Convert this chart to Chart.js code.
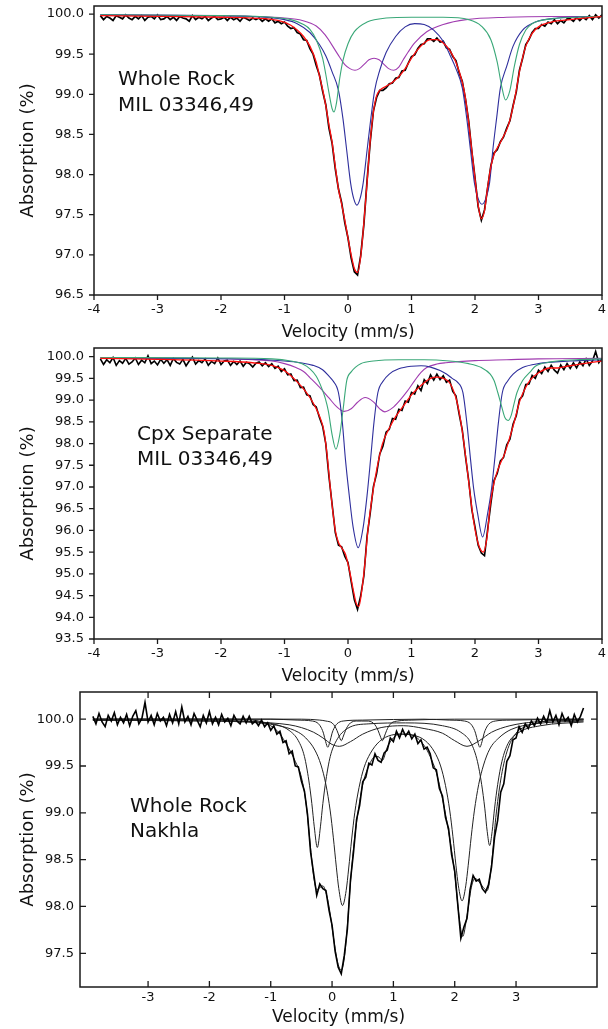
<!DOCTYPE html>
<html><head><meta charset="utf-8">
<script src="https://cdn.jsdelivr.net/npm/chart.js@4.4.1/dist/chart.umd.min.js"></script>
<style>
html,body{margin:0;padding:0;background:#fff;width:608px;height:1029px;overflow:hidden;}
canvas{position:absolute;left:0;}
</style></head><body>
<canvas id="c1" width="608" height="345" style="top:0px"></canvas>
<canvas id="c2" width="608" height="345" style="top:345px"></canvas>
<canvas id="c3" width="608" height="349" style="top:680px"></canvas>
<script>
// ---------- tick values ----------
const xTicksMil = [-4,-3,-2,-1,0,1,2,3,4];
const yTicksWr49 = [96.5,97.0,97.5,98.0,98.5,99.0,99.5,100.0];
const yTicksCpx = [93.5,94.0,94.5,95.0,95.5,96.0,96.5,97.0,97.5,98.0,98.5,99.0,99.5,100.0];
const xTicksNak = [-3,-2,-1,0,1,2,3];
const yTicksNak = [97.5,98.0,98.5,99.0,99.5,100.0];

// ---------- measured spectra (velocity channels, mm/s) ----------
const velocity = [
-3.90,-3.85,-3.80,-3.75,-3.70,-3.65,-3.60,-3.55,-3.50,-3.45,
-3.40,-3.35,-3.30,-3.25,-3.20,-3.15,-3.10,-3.05,-3.00,-2.95,
-2.90,-2.85,-2.80,-2.75,-2.70,-2.65,-2.60,-2.55,-2.50,-2.45,
-2.40,-2.35,-2.30,-2.25,-2.20,-2.15,-2.10,-2.05,-2.00,-1.95,
-1.90,-1.85,-1.80,-1.75,-1.70,-1.65,-1.60,-1.55,-1.50,-1.45,
-1.40,-1.35,-1.30,-1.25,-1.20,-1.15,-1.10,-1.05,-1.00,-0.95,
-0.90,-0.85,-0.80,-0.75,-0.70,-0.65,-0.60,-0.55,-0.50,-0.45,
-0.40,-0.35,-0.30,-0.25,-0.20,-0.15,-0.10,-0.05,0.00,0.05,
0.10,0.15,0.20,0.25,0.30,0.35,0.40,0.45,0.50,0.55,
0.60,0.65,0.70,0.75,0.80,0.85,0.90,0.95,1.00,1.05,
1.10,1.15,1.20,1.25,1.30,1.35,1.40,1.45,1.50,1.55,
1.60,1.65,1.70,1.75,1.80,1.85,1.90,1.95,2.00,2.05,
2.10,2.15,2.20,2.25,2.30,2.35,2.40,2.45,2.50,2.55,
2.60,2.65,2.70,2.75,2.80,2.85,2.90,2.95,3.00,3.05,
3.10,3.15,3.20,3.25,3.30,3.35,3.40,3.45,3.50,3.55,
3.60,3.65,3.70,3.75,3.80,3.85,3.90,3.95,4.00,4.05,
4.10];

// Whole rock MIL 03346,49
const wr49Absorption = [
99.98,99.93,99.97,99.95,99.92,99.98,99.96,99.94,99.99,99.95,
99.93,99.97,99.94,99.98,99.92,99.96,99.97,99.94,99.99,99.93,
99.94,99.97,99.93,99.96,99.92,99.97,99.95,99.94,99.91,99.98,
99.93,99.96,99.94,99.97,99.92,99.95,99.97,99.93,99.94,99.96,
99.92,99.96,99.93,99.95,99.91,99.96,99.94,99.92,99.95,99.93,
99.95,99.91,99.94,99.91,99.94,99.89,99.91,99.88,99.90,99.85,
99.82,99.83,99.77,99.75,99.68,99.67,99.57,99.50,99.36,99.24,
99.04,98.87,98.58,98.39,98.07,97.82,97.65,97.40,97.21,96.96,
96.79,96.75,96.99,97.38,97.92,98.41,98.79,98.96,99.05,99.05,
99.08,99.13,99.14,99.20,99.21,99.29,99.30,99.39,99.47,99.49,
99.57,99.62,99.63,99.69,99.69,99.66,99.70,99.65,99.66,99.58,
99.56,99.47,99.42,99.27,99.16,98.94,98.67,98.29,97.96,97.60,
97.43,97.56,97.84,98.11,98.27,98.31,98.41,98.47,98.58,98.67,
98.86,99.03,99.30,99.45,99.62,99.68,99.77,99.82,99.82,99.87,
99.85,99.90,99.88,99.93,99.88,99.92,99.89,99.94,99.94,99.91,
99.96,99.92,99.96,99.93,99.98,99.93,99.99,99.95,99.99,99.96,
99.98];

// Cpx separate MIL 03346,49
const cpxAbsorption = [
99.95,99.82,99.93,99.86,99.98,99.80,99.91,99.85,99.96,99.83,
99.88,99.97,99.82,99.92,99.86,100.02,99.84,99.90,99.81,99.94,
99.85,99.93,99.80,99.96,99.87,99.83,99.94,99.79,99.90,99.99,
99.83,99.91,99.86,99.95,99.80,99.89,99.84,99.97,99.82,99.90,
99.92,99.80,99.89,99.82,99.90,99.78,99.87,99.84,99.76,99.85,
99.88,99.79,99.86,99.77,99.84,99.73,99.78,99.66,99.72,99.58,
99.60,99.45,99.46,99.29,99.30,99.12,99.10,98.90,98.84,98.60,
98.40,98.00,97.24,96.60,95.95,95.66,95.62,95.40,95.26,94.82,
94.40,94.18,94.50,94.95,95.86,96.40,97.01,97.30,97.76,97.94,
98.26,98.33,98.58,98.56,98.79,98.76,98.98,98.95,99.18,99.14,
99.33,99.22,99.47,99.38,99.58,99.46,99.60,99.47,99.56,99.41,
99.46,99.20,99.10,98.68,98.31,97.70,97.16,96.48,96.08,95.66,
95.48,95.42,96.03,96.62,97.15,97.31,97.60,97.68,97.97,98.10,
98.45,98.64,99.01,99.10,99.36,99.37,99.57,99.50,99.69,99.61,
99.76,99.66,99.80,99.69,99.62,99.81,99.70,99.84,99.73,99.86,
99.74,99.88,99.79,99.95,99.80,99.90,100.12,99.86,99.96,99.92,
99.95];

// Whole rock Nakhla
const nakAbsorption = [
100.03,99.95,100.06,99.97,99.92,100.04,99.98,100.07,99.94,100.02,
99.96,100.05,99.93,100.03,100.09,99.95,100.01,100.18,99.97,100.04,
99.94,100.06,99.98,100.02,99.93,100.05,99.96,100.08,99.95,100.13,
99.97,100.03,99.94,100.06,99.99,99.92,100.04,99.96,100.08,99.95,
100.02,99.94,100.05,99.97,100.01,99.93,100.04,99.98,99.95,100.03,
99.96,100.03,99.95,99.98,99.93,99.99,99.92,99.96,99.88,99.93,
99.84,99.87,99.75,99.77,99.63,99.66,99.50,99.49,99.34,99.23,
98.98,98.58,98.35,98.12,98.24,98.19,98.17,97.96,97.80,97.52,
97.35,97.28,97.48,97.76,98.28,98.58,98.93,99.08,99.33,99.38,
99.53,99.51,99.63,99.56,99.54,99.64,99.67,99.80,99.76,99.87,
99.80,99.89,99.82,99.87,99.79,99.84,99.74,99.78,99.68,99.70,
99.63,99.48,99.46,99.26,99.18,98.95,98.83,98.55,98.38,98.02,
97.66,97.78,97.87,98.18,98.33,98.27,98.29,98.19,98.15,98.23,
98.42,98.74,98.92,99.22,99.31,99.55,99.61,99.78,99.80,99.92,
99.86,99.95,99.90,99.98,99.93,100.01,99.95,100.03,99.96,100.09,
99.97,100.04,99.94,100.06,99.98,100.02,99.93,100.05,99.97,100.03,
100.12];

// ---------- fitted curves ----------
// MIL 03346,49 whole rock
const wr49FitV = [-3.9,-3.0,-2.0,-1.5,-1.1,-0.9,-0.8,-0.7,-0.6,-0.5,
-0.45,-0.4,-0.35,-0.3,-0.25,-0.2,-0.15,-0.1,-0.05,0,
0.05,0.1,0.15,0.2,0.25,0.3,0.35,0.4,0.45,0.5,
0.6,0.7,0.8,0.9,1.0,1.1,1.2,1.3,1.4,1.5,
1.6,1.7,1.8,1.85,1.9,1.95,2.0,2.05,2.1,2.15,
2.2,2.25,2.3,2.35,2.4,2.45,2.5,2.55,2.6,2.65,
2.7,2.8,2.9,3.0,3.2,3.5,4.0];
const wr49Fit = [99.98,99.97,99.96,99.95,99.92,99.86,99.8,99.72,99.6,99.4,
99.23,99.06,98.86,98.62,98.4,98.1,97.82,97.63,97.43,97.21,
97.0,96.83,96.78,96.98,97.4,97.9,98.42,98.78,98.98,99.05,
99.1,99.15,99.22,99.32,99.45,99.56,99.64,99.68,99.68,99.64,
99.55,99.4,99.15,98.95,98.65,98.3,97.95,97.62,97.45,97.55,
97.85,98.1,98.25,98.33,98.4,98.48,98.56,98.68,98.85,99.05,
99.28,99.6,99.76,99.84,99.9,99.93,99.97];
const wr49GreenV = [-3.9,-2.0,-1.2,-0.9,-0.7,-0.6,-0.5,-0.4,-0.35,-0.3,
-0.25,-0.22,-0.18,-0.13,-0.08,0.0,0.1,0.3,0.6,1.0,
1.5,1.9,2.1,2.25,2.35,2.42,2.48,2.55,2.62,2.7,
2.8,2.9,3.2,3.6,4.0];
const wr49Green = [99.99,99.98,99.96,99.93,99.87,99.81,99.68,99.45,99.25,99.02,
98.82,98.78,98.9,99.2,99.42,99.63,99.78,99.9,99.95,99.96,
99.96,99.93,99.85,99.68,99.4,99.1,98.93,99.05,99.35,99.62,
99.8,99.88,99.94,99.96,99.97];
const wr49BlueV = [-3.9,-2.5,-1.5,-1.0,-0.8,-0.6,-0.45,-0.35,-0.25,-0.15,
-0.08,-0.02,0.04,0.09,0.14,0.19,0.24,0.3,0.36,0.42,
0.5,0.6,0.75,0.9,1.05,1.2,1.35,1.5,1.6,1.7,
1.8,1.87,1.93,1.99,2.05,2.11,2.17,2.23,2.28,2.34,
2.4,2.5,2.6,2.75,2.95,3.3,4.0];
const wr49Blue = [99.99,99.98,99.97,99.93,99.88,99.77,99.62,99.48,99.28,99.05,
98.7,98.3,97.9,97.7,97.62,97.7,97.9,98.3,98.7,99.05,
99.3,99.52,99.72,99.84,99.88,99.87,99.8,99.66,99.5,99.32,
99.08,98.7,98.3,97.9,97.7,97.63,97.7,97.9,98.3,98.7,
99.08,99.35,99.6,99.8,99.9,99.95,99.97];
const wr49PurpleV = [-3.9,-2.0,-1.5,-1.0,-0.72,-0.5,-0.36,-0.17,-0.05,0.03,
0.11,0.18,0.25,0.33,0.41,0.49,0.57,0.64,0.72,0.8,
0.87,0.95,1.05,1.24,1.5,1.86,2.5,3.2,4.0];
const wr49Purple = [99.99,99.98,99.97,99.95,99.92,99.85,99.74,99.51,99.37,99.32,
99.3,99.32,99.37,99.43,99.45,99.43,99.37,99.32,99.3,99.34,
99.43,99.53,99.64,99.78,99.87,99.93,99.96,99.97,99.97];

// MIL 03346,49 cpx separate
const cpxFitV = [-3.9,-3.0,-2.0,-1.5,-1.2,-1.0,-0.9,-0.8,-0.7,-0.6,
-0.5,-0.44,-0.38,-0.33,-0.28,-0.24,-0.2,-0.15,-0.1,-0.04,
0.02,0.08,0.13,0.17,0.22,0.27,0.31,0.35,0.43,0.54,
0.66,0.75,0.87,1.0,1.1,1.2,1.3,1.4,1.5,1.6,
1.7,1.76,1.81,1.87,1.92,1.98,2.05,2.13,2.19,2.24,
2.3,2.36,2.47,2.6,2.71,2.8,2.87,3.0,3.18,3.3,
3.45,3.7,4.0];
const cpxFit = [99.96,99.94,99.9,99.86,99.8,99.68,99.56,99.42,99.26,99.06,
98.8,98.6,98.3,97.75,97.0,96.45,96.0,95.72,95.6,95.45,
95.1,94.65,94.32,94.25,94.65,95.3,95.95,96.45,97.22,97.98,
98.38,98.62,98.86,99.12,99.27,99.4,99.5,99.53,99.5,99.4,
99.05,98.65,98.18,97.5,96.88,96.2,95.7,95.5,95.85,96.6,
97.1,97.4,97.78,98.4,99.0,99.3,99.46,99.63,99.74,99.74,
99.78,99.84,99.9];
const cpxGreenV = [-3.9,-2.0,-1.2,-0.9,-0.7,-0.6,-0.5,-0.42,-0.36,-0.31,
-0.25,-0.19,-0.13,-0.08,-0.02,0.05,0.12,0.2,0.4,0.8,
1.2,1.6,1.9,2.1,2.24,2.3,2.36,2.42,2.47,2.52,
2.57,2.62,2.66,2.75,2.87,2.95,3.2,3.6,4.0];
const cpxGreen = [99.98,99.97,99.95,99.9,99.82,99.72,99.55,99.3,99.05,98.75,
98.2,97.87,98.2,98.75,99.45,99.65,99.76,99.84,99.9,99.93,
99.93,99.9,99.84,99.75,99.6,99.45,99.17,98.85,98.6,98.53,
98.65,98.95,99.17,99.45,99.65,99.78,99.88,99.93,99.95];
const cpxBlueV = [-3.9,-2.5,-1.5,-1.0,-0.75,-0.55,-0.4,-0.3,-0.24,-0.15,
-0.09,-0.04,0.02,0.08,0.16,0.24,0.3,0.355,0.41,0.47,
0.56,0.65,0.8,1.0,1.15,1.3,1.45,1.55,1.64,1.72,
1.81,1.87,1.93,1.98,2.04,2.12,2.2,2.26,2.31,2.37,
2.43,2.52,2.6,2.75,3.0,3.5,4.0];
const cpxBlue = [99.97,99.96,99.94,99.9,99.86,99.8,99.7,99.55,99.45,99.17,
98.5,97.63,96.8,96.08,95.6,96.08,96.8,97.63,98.5,99.17,
99.45,99.6,99.72,99.78,99.79,99.76,99.68,99.6,99.5,99.42,
99.17,98.5,97.63,96.95,96.4,95.85,96.4,96.95,97.63,98.5,
99.17,99.45,99.6,99.75,99.84,99.9,99.93];
const cpxPurpleV = [-3.9,-2.5,-1.5,-1.2,-1.0,-0.82,-0.7,-0.6,-0.45,-0.3,
-0.18,-0.06,0.05,0.15,0.27,0.4,0.5,0.58,0.7,0.82,
0.93,1.05,1.15,1.24,1.4,1.54,2.0,2.5,3.0,4.0];
const cpxPurple = [99.97,99.96,99.93,99.9,99.84,99.75,99.66,99.52,99.3,99.05,
98.85,98.74,98.8,98.95,99.06,98.96,98.8,98.73,98.82,99.0,
99.2,99.45,99.64,99.75,99.83,99.86,99.91,99.93,99.95,99.96];

// Nakhla whole rock
const nakFitV = [-3.9,-2.0,-1.3,-1.1,-0.9,-0.75,-0.6,-0.5,-0.42,-0.35,
-0.3,-0.25,-0.2,-0.15,-0.1,-0.05,0.0,0.05,0.1,0.15,
0.2,0.25,0.3,0.35,0.4,0.5,0.6,0.7,0.75,0.82,
0.9,1.0,1.1,1.3,1.5,1.6,1.7,1.8,1.9,2.0,
2.07,2.13,2.2,2.27,2.33,2.4,2.47,2.53,2.6,2.67,
2.75,2.85,3.0,3.2,3.5,4.1];
const nakFit = [100.0,100.0,99.99,99.96,99.88,99.74,99.55,99.38,99.08,98.62,
98.32,98.18,98.2,98.22,98.15,98.0,97.78,97.55,97.38,97.32,
97.45,97.8,98.25,98.62,98.9,99.3,99.5,99.6,99.6,99.56,
99.7,99.8,99.84,99.83,99.72,99.6,99.43,99.15,98.8,98.35,
97.9,97.68,97.9,98.2,98.3,98.26,98.2,98.17,98.45,98.95,
99.35,99.65,99.85,99.93,99.98,100.0];
const nakAV = [-3.9,-2.0,-1.2,-0.9,-0.7,-0.55,-0.45,-0.38,-0.33,-0.29,
-0.24,-0.19,-0.15,-0.1,-0.03,0.07,0.25,0.6,1.2,1.8,
2.1,2.27,2.37,2.44,2.49,2.53,2.57,2.61,2.65,2.7,
2.77,2.87,3.05,3.4,4.1];
const nakA = [99.99,99.98,99.97,99.94,99.88,99.77,99.6,99.35,99.1,98.85,
98.63,98.85,99.1,99.35,99.6,99.77,99.9,99.95,99.96,99.93,
99.86,99.74,99.55,99.3,99.05,98.8,98.65,98.8,99.05,99.3,
99.55,99.74,99.86,99.93,99.97];
const nakBV = [-3.9,-2.0,-1.2,-0.8,-0.55,-0.43,-0.28,-0.18,-0.1,-0.03,
0.02,0.07,0.11,0.17,0.23,0.27,0.32,0.37,0.44,0.52,
0.62,0.77,0.97,1.15,1.32,1.52,1.67,1.77,1.85,1.92,
1.97,2.02,2.06,2.12,2.18,2.22,2.27,2.32,2.39,2.47,
2.57,2.72,2.92,3.3,4.1];
const nakB = [99.99,99.98,99.96,99.92,99.86,99.8,99.67,99.51,99.3,99.02,
98.74,98.42,98.19,98.01,98.17,98.4,98.72,99.0,99.27,99.48,
99.63,99.76,99.83,99.84,99.83,99.77,99.65,99.5,99.29,99.02,
98.75,98.44,98.22,98.06,98.22,98.44,98.75,99.02,99.3,99.51,
99.68,99.8,99.89,99.95,99.98];
const nakCV = [-3.9,-1.0,-0.57,-0.32,-0.22,-0.17,-0.14,-0.105,-0.07,-0.035,
0.0,0.03,0.08,0.18,0.5,1.5,1.91,2.16,2.26,2.31,
2.34,2.375,2.41,2.445,2.48,2.51,2.56,2.66,2.91,4.1];
const nakC = [100.0,100.0,99.99,99.98,99.95,99.9,99.85,99.76,99.7,99.76,
99.85,99.9,99.95,99.98,99.99,100.0,99.99,99.98,99.95,99.9,
99.85,99.76,99.7,99.76,99.85,99.9,99.95,99.98,99.99,100.0];
const nakDV = [-3.9,-0.5,-0.2,-0.1,0.0,0.05,0.08,0.115,0.15,0.185,
0.22,0.25,0.3,0.4,0.48,0.57,0.67,0.72,0.75,0.785,
0.82,0.855,0.89,0.92,0.97,1.07,1.3,2.0,4.1];
const nakD = [100.0,100.0,99.99,99.98,99.96,99.92,99.88,99.82,99.77,99.82,
99.88,99.92,99.96,99.98,99.98,99.98,99.96,99.92,99.88,99.82,
99.77,99.82,99.88,99.92,99.96,99.98,99.99,100.0,100.0];
const nakEV = [-3.9,-2.0,-1.0,-0.7,-0.5,-0.3,-0.15,0.0,0.12,0.3,
0.5,0.8,1.16,1.5,1.8,2.0,2.2,2.4,2.6,2.9,3.3,4.1];
const nakE = [99.99,99.99,99.96,99.94,99.91,99.86,99.8,99.73,99.71,99.76,
99.84,99.91,99.93,99.9,99.85,99.77,99.71,99.77,99.86,99.93,99.97,99.99];

// ---------- rendering ----------
const FONT = '"DejaVu Sans", "Liberation Sans", sans-serif';
const TXT = '#111';

function pairs(xs, ys) { return ys.map((y, i) => ({ x: xs[i], y: y })); }
function spectrum(ys, w) { return { data: pairs(velocity, ys), borderColor: '#000', borderWidth: w, tension: 0, order: 10, clip: 0 }; }
function curve(xs, ys, color, w, ord) {
  return { data: pairs(xs, ys), borderColor: color, borderWidth: w, cubicInterpolationMode: 'monotone', order: ord, clip: 0 };
}

const frameTicks = {
  id: 'frameTicks',
  afterDatasetsDraw(chart, args, opts) {
    const ctx = chart.ctx, a = chart.chartArea, xs = chart.scales.x, ys = chart.scales.y;
    ctx.save();
    ctx.strokeStyle = '#1a1a1a';
    ctx.lineWidth = 1.5;
    ctx.strokeRect(a.left, a.top, a.right - a.left, a.bottom - a.top);
    const L = opts.tickLen;
    ctx.lineWidth = 1.3;
    ctx.beginPath();
    xs.ticks.forEach(t => {
      const px = xs.getPixelForValue(t.value);
      if (opts.inward) {
        ctx.moveTo(px, a.bottom); ctx.lineTo(px, a.bottom - L);
        ctx.moveTo(px, a.top); ctx.lineTo(px, a.top + L);
      } else {
        ctx.moveTo(px, a.bottom); ctx.lineTo(px, a.bottom + L);
      }
    });
    ys.ticks.forEach(t => {
      const py = ys.getPixelForValue(t.value);
      if (opts.inward) {
        ctx.moveTo(a.left, py); ctx.lineTo(a.left + L, py);
        ctx.moveTo(a.right, py); ctx.lineTo(a.right - L, py);
      } else {
        ctx.moveTo(a.left, py); ctx.lineTo(a.left - L, py);
      }
    });
    ctx.stroke();
    ctx.fillStyle = TXT;
    ctx.font = '20px ' + FONT;
    ctx.textBaseline = 'middle';
    ctx.textAlign = 'left';
    (opts.labels || []).forEach(l => ctx.fillText(l.text, l.x, l.y));
    ctx.restore();
  }
};

function makeChart(id, c) {
  return new Chart(document.getElementById(id), {
    type: 'line',
    data: { datasets: c.datasets },
    options: {
      responsive: false, animation: false, devicePixelRatio: 1,
      layout: { padding: c.padding },
      elements: { point: { radius: 0 } },
      plugins: { legend: { display: false }, tooltip: { enabled: false }, frameTicks: c.frame },
      scales: {
        x: {
          type: 'linear', min: c.xMin, max: c.xMax,
          afterBuildTicks: s => { s.ticks = c.xTicks.map(v => ({ value: v })); },
          afterFit: s => { s.height = c.xHeight; s.paddingLeft = 0; s.paddingRight = 0; },
          grid: { display: false, drawTicks: false }, border: { display: false },
          ticks: { font: { family: FONT, size: 13 }, color: TXT, padding: c.xPad, maxRotation: 0, minRotation: 0, autoSkip: false,
                   callback: v => String(v) },
          title: { display: true, text: 'Velocity (mm/s)', color: TXT, font: { family: FONT, size: 17 },
                   padding: { top: 0, bottom: c.xTitlePad } }
        },
        y: {
          type: 'linear', min: c.yMin, max: c.yMax,
          afterBuildTicks: s => { s.ticks = c.yTicks.map(v => ({ value: v })); },
          afterFit: s => { s.width = c.yWidth; s.paddingTop = 0; s.paddingBottom = 0; },
          grid: { display: false, drawTicks: false }, border: { display: false },
          ticks: { font: { family: FONT, size: 13 }, color: TXT, padding: c.yPad, autoSkip: false,
                   callback: v => Number(v).toFixed(1) },
          title: { display: true, text: 'Absorption (%)', color: TXT, font: { family: FONT, size: 18 },
                   padding: { top: 18, bottom: 0 } }
        }
      }
    },
    plugins: [frameTicks]
  });
}

const GREEN = '#3aa878', BLUE = '#2e2e9c', PURPLE = '#a03cb0', RED = '#ff1010', GREY = '#222';

makeChart('c1', {
  datasets: [
    curve(wr49FitV, wr49Fit, RED, 1.3, 0),
    curve(wr49GreenV, wr49Green, GREEN, 1.1, 1),
    curve(wr49BlueV, wr49Blue, BLUE, 1.1, 2),
    curve(wr49PurpleV, wr49Purple, PURPLE, 1.1, 3),
    spectrum(wr49Absorption, 1.7)
  ],
  padding: { left: 0, right: 6, top: 6, bottom: 0 },
  xMin: -4, xMax: 4, xTicks: xTicksMil, xHeight: 50, xPad: 7, xTitlePad: 2,
  yMin: 96.5, yMax: 100.1, yTicks: yTicksWr49, yWidth: 94, yPad: 10,
  frame: { inward: false, tickLen: 5, labels: [{ text: 'Whole Rock', x: 118, y: 80 }, { text: 'MIL 03346,49', x: 118, y: 106 }] }
});

makeChart('c2', {
  datasets: [
    curve(cpxFitV, cpxFit, RED, 1.3, 0),
    curve(cpxGreenV, cpxGreen, GREEN, 1.1, 1),
    curve(cpxBlueV, cpxBlue, BLUE, 1.1, 2),
    curve(cpxPurpleV, cpxPurple, PURPLE, 1.1, 3),
    spectrum(cpxAbsorption, 1.6)
  ],
  padding: { left: 0, right: 6, top: 3, bottom: 0 },
  xMin: -4, xMax: 4, xTicks: xTicksMil, xHeight: 51, xPad: 7, xTitlePad: 3,
  yMin: 93.5, yMax: 100.2, yTicks: yTicksCpx, yWidth: 94, yPad: 10,
  frame: { inward: false, tickLen: 5, labels: [{ text: 'Cpx Separate', x: 137, y: 90 }, { text: 'MIL 03346,49', x: 137, y: 115 }] }
});

makeChart('c3', {
  datasets: [
    spectrum(nakAbsorption, 1.6),
    curve(nakFitV, nakFit, GREY, 1, 11),
    curve(nakAV, nakA, GREY, 1, 12),
    curve(nakBV, nakB, GREY, 1, 13),
    curve(nakCV, nakC, GREY, 1, 14),
    curve(nakDV, nakD, GREY, 1, 15),
    curve(nakEV, nakE, GREY, 1, 16)
  ],
  padding: { left: 0, right: 11, top: 12, bottom: 0 },
  xMin: -4.11, xMax: 4.32, xTicks: xTicksNak, xHeight: 42, xPad: 3, xTitlePad: 1,
  yMin: 97.14, yMax: 100.29, yTicks: yTicksNak, yWidth: 80, yPad: 6,
  frame: { inward: true, tickLen: 6, labels: [{ text: 'Whole Rock', x: 130, y: 127 }, { text: 'Nakhla', x: 130, y: 152 }] }
});
</script>
</body></html>
